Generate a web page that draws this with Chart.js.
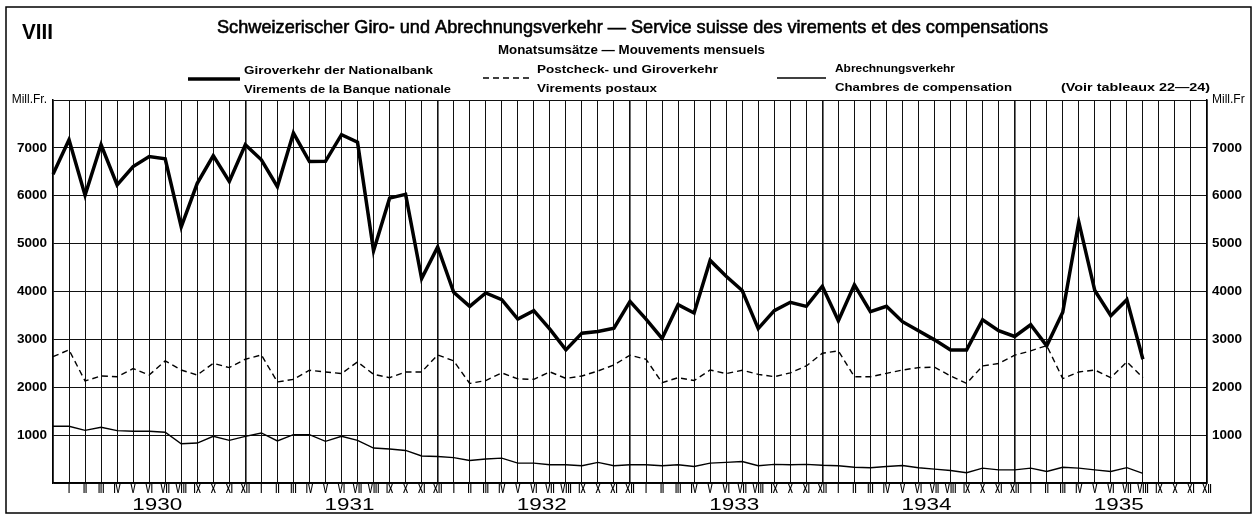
<!DOCTYPE html>
<html>
<head>
<meta charset="utf-8">
<script src="https://cdn.jsdelivr.net/npm/chart.js@4/dist/chart.umd.min.js"></script>
<style>
  html, body { margin: 0; padding: 0; background: #fff; }
  canvas { display: block; }
</style>
</head>
<body>
<canvas id="giroChart" width="1260" height="516"></canvas>
<script>
// Monatsumsätze in Mill. Fr., Dezember 1929 bis August 1935
const years = ['1930', '1931', '1932', '1933', '1934', '1935'];
const months = ['I', 'II', 'III', 'IV', 'V', 'VI', 'VII', 'VIII', 'IX', 'X', 'XI', 'XII'];
// erster Punkt = Dezember 1929 (linker Rand, ohne Beschriftung)
const monthLabels = [''].concat(...years.map(() => months));

const nationalbank = [6450,
  7170, 6010, 7065, 6225, 6610, 6820, 6770, 5350, 6260, 6840, 6300, 7065,
  6750, 6190, 7310, 6715, 6720, 7275, 7120, 4850, 5950, 6030, 4270, 4930,
  3985, 3690, 3970, 3830, 3425, 3600, 3215, 2780, 3130, 3165, 3235, 3795,
  3425, 3020, 3725, 3550, 4650, 4320, 4020, 3225, 3600, 3775, 3690, 4110,
  3390, 4140, 3580, 3690, 3370, 3180, 2990, 2780, 2780, 3410, 3180, 3060,
  3305, 2865, 3565, 5455, 4020, 3495, 3830, 2585];

const postcheck = [2640,
  2780, 2130, 2235, 2220, 2390, 2255, 2550, 2360, 2255, 2500, 2410, 2585,
  2675, 2110, 2165, 2355, 2320, 2285, 2530, 2270, 2200, 2320, 2320, 2675,
  2550, 2080, 2140, 2300, 2175, 2165, 2320, 2185, 2235, 2340, 2465, 2670,
  2585, 2095, 2200, 2140, 2360, 2285, 2355, 2270, 2220, 2300, 2445, 2710,
  2760, 2220, 2220, 2290, 2360, 2410, 2420, 2235, 2080, 2445, 2495, 2670,
  2760, 2870, 2180, 2320, 2360, 2200, 2530, 2200];

const abrechnung = [1185,
  1185, 1100, 1165, 1095, 1080, 1080, 1060, 820, 835, 975, 890, 975,
  1045, 880, 1010, 1010, 870, 975, 890, 730, 710, 680, 565, 555,
  530, 470, 500, 520, 415, 415, 380, 380, 360, 430, 360, 380,
  380, 360, 380, 345, 415, 430, 450, 360, 390, 380, 390, 370,
  360, 330, 320, 345, 365, 320, 290, 260, 215, 310, 275, 275,
  310, 240, 330, 310, 275, 240, 320, 200];

const seriesNames = [
  ['Giroverkehr der Nationalbank', 'Virements de la Banque nationale'],
  ['Postcheck- und Giroverkehr', 'Virements postaux'],
  ['Abrechnungsverkehr', 'Chambres de compensation']
];

const SANS = '"Liberation Sans", Arial, sans-serif';

// Text horizontal auf eine Zielbreite stauchen/strecken
function fitText(c, str, x, y, w, font, stroke) {
  c.save();
  c.font = font;
  const k = w / c.measureText(str).width;
  c.translate(x, y);
  c.scale(k, 1);
  c.textAlign = 'left';
  c.textBaseline = 'alphabetic';
  c.fillText(str, 0, 0);
  if (stroke) { c.lineWidth = stroke; c.strokeText(str, 0, 0); }
  c.restore();
}

// schmale Schrift für Monatszahlen, zentriert
function narrowText(c, str, cx, cy, font, k) {
  c.save();
  c.font = font;
  c.translate(cx, cy);
  c.scale(k, 1);
  c.textAlign = 'center';
  c.textBaseline = 'middle';
  c.fillText(str, 0, 0);
  c.restore();
}

const decor = {
  id: 'decor',
  afterDraw(chart) {
    const c = chart.ctx;
    const xs = chart.scales.x;
    c.save();
    c.fillStyle = '#000';
    c.strokeStyle = '#000';

    // Rahmen
    c.lineWidth = 1.5;
    c.strokeRect(6, 7, 1245, 506);

    fitText(c, 'VIII', 22, 39, 31, 'bold 22px ' + SANS);
    fitText(c, 'Schweizerischer Giro- und Abrechnungsverkehr \u2014 Service suisse des virements et des compensations',
      217, 33, 831, '19px ' + SANS, 0.6);
    fitText(c, 'Monatsumsätze \u2014 Mouvements mensuels', 498, 54, 267, 'bold 12px ' + SANS);

    // Legende
    const samples = [[188, 240, 79], [483, 530, 78], [777, 826, 78]];
    const textX = [244, 537, 835];
    const widths = [[189, 207], [181, 120], [120, 177]];
    const base = [[74, 93], [73, 92], [72, 91]];
    chart.data.datasets.forEach((ds, i) => {
      const [x0, x1, ly] = samples[i];
      c.lineWidth = ds.borderWidth;
      c.setLineDash(ds.borderDash || []);
      c.beginPath();
      c.moveTo(x0, ly);
      c.lineTo(x1, ly);
      c.stroke();
      c.setLineDash([]);
      fitText(c, seriesNames[i][0], textX[i], base[i][0], widths[i][0], 'bold 11px ' + SANS);
      fitText(c, seriesNames[i][1], textX[i], base[i][1], widths[i][1], 'bold 11px ' + SANS);
    });
    fitText(c, '(Voir tableaux 22\u201424)', 1061, 91, 149, 'bold 11px ' + SANS);

    // Monatsbeschriftung an den Ticks der x-Achse
    xs.ticks.forEach((t, i) => {
      const lbl = chart.data.labels[i];
      if (lbl) narrowText(c, lbl, xs.getPixelForTick(i), 490, 'bold 12px ' + SANS, 0.64);
    });

    // Jahreszahlen unter der Monatsachse
    years.forEach((yr, i) => {
      const cx = xs.getPixelForValue(i * 12 + 6.5);
      fitText(c, yr, cx - 25, 510, 50, '16px ' + SANS);
    });
    c.restore();
  }
};

const tickFont = () => (ctx) =>
  ctx.tick && ctx.tick.value === 8000
    ? { family: SANS, size: 12, weight: 'normal' }
    : { family: SANS, size: 13.5, weight: 'bold' };

new Chart(document.getElementById('giroChart').getContext('2d'), {
  type: 'line',
  data: {
    labels: monthLabels,
    datasets: [
      { label: seriesNames[0][0], data: nationalbank, borderColor: '#000', borderWidth: 3.5,
        pointRadius: 0, tension: 0, borderJoinStyle: 'miter', yAxisID: 'y' },
      { label: seriesNames[1][0], data: postcheck, borderColor: '#000', borderWidth: 1.4,
        borderDash: [6, 4], pointRadius: 0, tension: 0, yAxisID: 'y' },
      { label: seriesNames[2][0], data: abrechnung, borderColor: '#000', borderWidth: 1.4,
        pointRadius: 0, tension: 0, yAxisID: 'y' }
    ]
  },
  options: {
    responsive: false,
    animation: false,
    layout: { padding: { top: 100, left: 0, right: 0, bottom: 0 } },
    plugins: { legend: { display: false }, tooltip: { enabled: false } },
    scales: {
      x: {
        offset: false,
        grid: {
          color: '#111',
          lineWidth: (ctx) => (ctx.index % 12 === 0 ? 1.6 : 1),
          drawTicks: false
        },
        border: { color: '#000', width: 1.5 },
        ticks: { autoSkip: false, maxRotation: 0, minRotation: 0, display: false },
        afterFit: (s) => { s.height = 33; }
      },
      y: {
        position: 'left',
        min: 0, max: 8000,
        grid: { color: '#111', lineWidth: 1, drawTicks: false },
        border: { color: '#000', width: 1.5 },
        ticks: {
          stepSize: 1000, padding: 6, color: '#000',
          font: tickFont(),
          callback: (v) => (v === 8000 ? 'Mill.Fr.' : v === 0 ? '' : v)
        },
        afterFit: (s) => { s.width = 53; }
      },
      y2: {
        position: 'right',
        min: 0, max: 8000,
        grid: { drawOnChartArea: false, drawTicks: false },
        border: { color: '#000', width: 1.5 },
        ticks: {
          stepSize: 1000, padding: 5, color: '#000',
          font: tickFont(),
          callback: (v) => (v === 8000 ? 'Mill.Fr' : v === 0 ? '' : v)
        },
        afterFit: (s) => { s.width = 53; }
      }
    }
  },
  plugins: [decor]
});
</script>
</body>
</html>
